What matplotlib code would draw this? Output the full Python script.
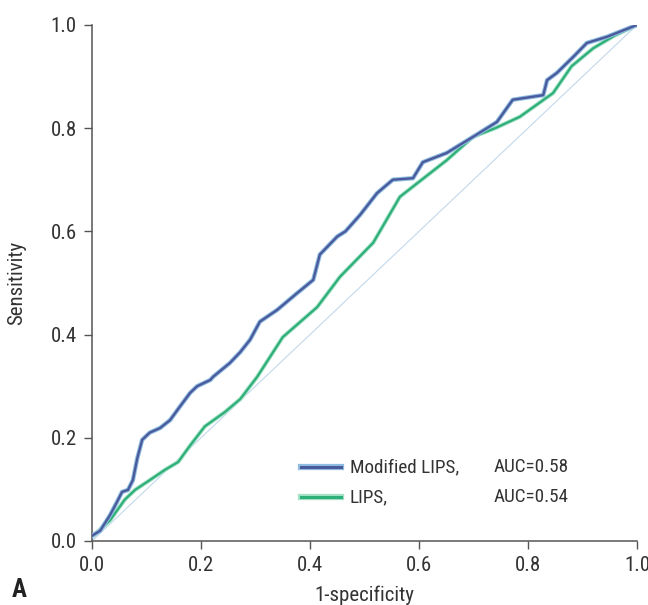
import matplotlib
matplotlib.use("Agg")
import matplotlib.pyplot as plt
from matplotlib import font_manager

# condensed sans like the journal figure; fall back to DejaVu condensed
installed = {f.name for f in font_manager.fontManager.ttflist}
if "Roboto Condensed" in installed:
    plt.rcParams['font.family'] = ['Roboto Condensed', 'DejaVu Sans']
else:
    plt.rcParams['font.family'] = ['DejaVu Sans']
    plt.rcParams['font.stretch'] = 'condensed'

# ROC curve of Modified LIPS
mod_fpr = [0.0, 0.015, 0.033, 0.046, 0.055, 0.066, 0.075, 0.083, 0.092, 0.106,
           0.125, 0.143, 0.161, 0.18, 0.193, 0.217, 0.222, 0.253, 0.272, 0.29,
           0.308, 0.34, 0.376, 0.406, 0.418, 0.45, 0.465, 0.492, 0.523, 0.552,
           0.589, 0.607, 0.651, 0.699, 0.743, 0.772, 0.828, 0.835, 0.853, 0.883,
           0.908, 0.945, 1.0]
mod_tpr = [0.01, 0.02, 0.05, 0.076, 0.095, 0.099, 0.118, 0.16, 0.196, 0.21,
           0.219, 0.234, 0.26, 0.287, 0.30, 0.312, 0.318, 0.345, 0.366, 0.39,
           0.425, 0.448, 0.48, 0.506, 0.555, 0.59, 0.60, 0.632, 0.674, 0.70,
           0.703, 0.734, 0.752, 0.783, 0.812, 0.855, 0.864, 0.893, 0.907, 0.938,
           0.965, 0.977, 1.0]

# ROC curve of LIPS
lips_fpr = [0.0, 0.033, 0.06, 0.079, 0.106, 0.134, 0.158, 0.18, 0.207, 0.244,
            0.272, 0.303, 0.35, 0.413, 0.455, 0.516, 0.565, 0.651, 0.699, 0.74,
            0.785, 0.846, 0.88, 0.92, 0.96, 1.0]
lips_tpr = [0.008, 0.04, 0.08, 0.099, 0.118, 0.138, 0.153, 0.185, 0.222, 0.25,
            0.275, 0.318, 0.395, 0.453, 0.512, 0.578, 0.667, 0.738, 0.783, 0.80,
            0.822, 0.868, 0.92, 0.955, 0.98, 1.0]

labels = ["Modified LIPS,", "LIPS,"]
aucs = ["AUC=0.58", "AUC=0.54"]
ticks = [0.0, 0.2, 0.4, 0.6, 0.8, 1.0]

blue = "#4a5a9c"
blue_halo = "#8fbde0"
green = "#2eae78"
green_halo = "#a6e2c8"
text_col = "#333333"

fig = plt.figure(figsize=(6.48, 6.05), dpi=100)
ax = fig.add_axes([0.142, 0.1058, 0.841, 0.853])

# chance line
ax.plot([0, 1], [0, 1], color="#c2d8ec", lw=0.8, zorder=1)

ax.plot(lips_fpr, lips_tpr, color=green_halo, lw=3.0, zorder=2)
ax.plot(lips_fpr, lips_tpr, color=green, lw=1.6, zorder=3)
ax.plot(mod_fpr, mod_tpr, color=blue_halo, lw=3.2, zorder=4)
ax.plot(mod_fpr, mod_tpr, color=blue, lw=1.7, zorder=5)

ax.set_xlim(0, 1)
ax.set_ylim(0, 1)
ax.set_xticks(ticks)
ax.set_yticks(ticks)
ax.set_xticklabels([f"{t:.1f}" for t in ticks])
ax.set_yticklabels([f"{t:.1f}" for t in ticks])
ax.tick_params(direction="out", length=6, width=1, colors="#555555",
               labelcolor=text_col, labelsize=15, pad=5)
for s in ["top", "right"]:
    ax.spines[s].set_visible(False)
for s in ["left", "bottom"]:
    ax.spines[s].set_color("#555555")
    ax.spines[s].set_linewidth(1.1)

ax.set_xlabel("1-specificity", fontsize=15, color=text_col)
ax.set_ylabel("Sensitivity", fontsize=15, color=text_col)
ax.xaxis.set_label_coords(0.5, -0.087)
ax.yaxis.set_label_coords(-0.121, 0.5)

# legend drawn by hand so the AUC column lines up
rows_y = [0.143, 0.085]
line_cols = [(blue_halo, blue), (green_halo, green)]
for i, (lab, auc) in enumerate(zip(labels, aucs)):
    y = rows_y[i]
    halo, core = line_cols[i]
    ax.plot([0.383, 0.457], [y, y], transform=ax.transAxes, color=halo, lw=4.5, clip_on=False)
    ax.plot([0.383, 0.457], [y, y], transform=ax.transAxes, color=core, lw=2.2, clip_on=False)
    ax.text(0.473, y, lab, transform=ax.transAxes, fontsize=13.8, color=text_col, va="center")
    ax.text(0.736, y, auc, transform=ax.transAxes, fontsize=13.8, color=text_col, va="center")

fig.text(0.018, 0.013, "A", fontsize=18, fontweight="bold", color="#222222")

fig.savefig("out.png", dpi=100)
